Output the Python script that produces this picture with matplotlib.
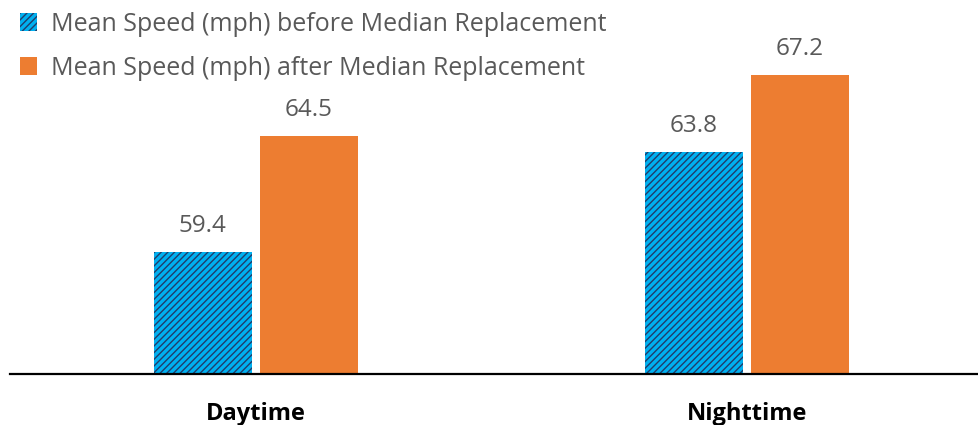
import numpy as np
import matplotlib
matplotlib.use("Agg")
import matplotlib.pyplot as plt

categories = ["Daytime", "Nighttime"]
before = [59.4, 63.8]
after = [64.5, 67.2]
labels = ["Mean Speed (mph) before Median Replacement",
          "Mean Speed (mph) after Median Replacement"]

plt.rcParams['font.family'] = ['Open Sans', 'DejaVu Sans']
plt.rcParams['hatch.linewidth'] = 1.0
plt.rcParams['hatch.color'] = '#1F3D6B'

fig = plt.figure(figsize=(9.79, 4.25), dpi=100)
ax = fig.add_axes([0.01, 0.12, 0.99, 0.88])

x = np.arange(len(categories))
w = 0.2
gap = 0.008
b1 = ax.bar(x - w / 2 - gap, before, w, color='#00B0F0', hatch='/////',
            edgecolor='#1F3D6B', linewidth=0, label=labels[0])
b2 = ax.bar(x + w / 2 + gap, after, w, color='#ED7D31', linewidth=0, label=labels[1])

for bars, vals in [(b1, before), (b2, after)]:
    for r, v in zip(bars, vals):
        ax.annotate(f"{v:.1f}", (r.get_x() + r.get_width() / 2, v),
                    xytext=(0, 10), textcoords='offset points',
                    ha='center', va='bottom', fontsize=17.5, color='#595959')

ax.set_xlim(-0.501, 1.4725)
ax.set_ylim(54, 70.5)
ax.set_xticks(x)
ax.set_xticklabels(categories, fontsize=17, fontweight='bold', color='black')
ax.tick_params(axis='x', length=0, pad=20)
ax.set_yticks([])
for s in ['top', 'right', 'left']:
    ax.spines[s].set_visible(False)
ax.spines['bottom'].set_linewidth(1.6)
ax.spines['bottom'].set_color('black')

fig.legend(handles=[b1, b2], loc='upper left', bbox_to_anchor=(-0.003, 1.025),
           frameon=False, fontsize=18, labelcolor='#595959',
           handlelength=0.7, handleheight=0.7, handletextpad=0.55, labelspacing=0.75)

fig.savefig("out.png", dpi=100)
